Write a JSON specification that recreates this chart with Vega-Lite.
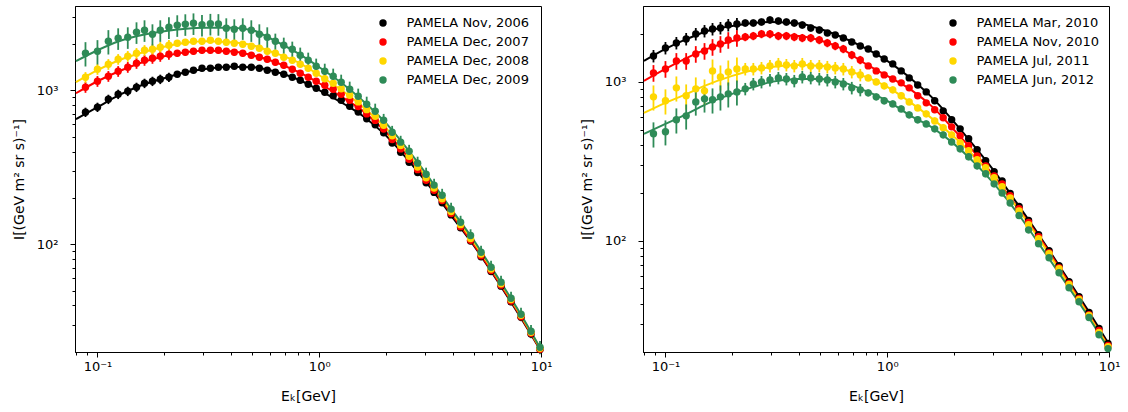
{
"$schema": "https://vega.github.io/schema/vega-lite/v6.json",
"background": "white",
"padding": {"left": 11, "top": 5, "right": 5, "bottom": 5},
"bounds": "flush",
"spacing": 102,
"config": {
 "font": "DejaVu Sans",
 "view": {"stroke": "black", "strokeWidth": 1},
 "axis": {"grid": false, "domainColor": "black", "domainWidth": 1, "tickColor": "black", "tickWidth": 1, "labelColor": "black", "titleColor": "black", "labelFont": "DejaVu Sans", "titleFont": "DejaVu Sans", "labelFontSize": 13, "titleFontSize": 14, "titleFontWeight": "normal", "labelOverlap": false, "labelFlush": false},
 "legend": {"labelFont": "DejaVu Sans", "labelFontSize": 13, "labelColor": "black"}
},
"resolve": {"scale": {"color": "independent", "fill": "independent", "x": "independent", "y": "independent"}, "legend": {"fill": "independent", "color": "independent"}},
"datasets": {
"L": [
{"s":"PAMELA Nov, 2006","E":0.0883,"I":720,"e":50},{"s":"PAMELA Nov, 2006","E":0.100,"I":776,"e":54},{"s":"PAMELA Nov, 2006","E":0.112,"I":874,"e":61},{"s":"PAMELA Nov, 2006","E":0.124,"I":942,"e":66},{"s":"PAMELA Nov, 2006","E":0.137,"I":985,"e":69},{"s":"PAMELA Nov, 2006","E":0.150,"I":1046,"e":73},{"s":"PAMELA Nov, 2006","E":0.163,"I":1110,"e":78},{"s":"PAMELA Nov, 2006","E":0.177,"I":1144,"e":80},{"s":"PAMELA Nov, 2006","E":0.192,"I":1179,"e":83},{"s":"PAMELA Nov, 2006","E":0.210,"I":1214,"e":85},
{"s":"PAMELA Nov, 2006","E":0.229,"I":1270,"e":51},{"s":"PAMELA Nov, 2006","E":0.249,"I":1309,"e":52},{"s":"PAMELA Nov, 2006","E":0.271,"I":1349,"e":54},{"s":"PAMELA Nov, 2006","E":0.296,"I":1389,"e":56},{"s":"PAMELA Nov, 2006","E":0.323,"I":1389,"e":56},{"s":"PAMELA Nov, 2006","E":0.351,"I":1411,"e":56},{"s":"PAMELA Nov, 2006","E":0.381,"I":1411,"e":56},{"s":"PAMELA Nov, 2006","E":0.414,"I":1432,"e":57},{"s":"PAMELA Nov, 2006","E":0.452,"I":1411,"e":56},{"s":"PAMELA Nov, 2006","E":0.494,"I":1411,"e":56},
{"s":"PAMELA Nov, 2006","E":0.537,"I":1389,"e":56},{"s":"PAMELA Nov, 2006","E":0.583,"I":1349,"e":54},{"s":"PAMELA Nov, 2006","E":0.634,"I":1309,"e":52},{"s":"PAMELA Nov, 2006","E":0.692,"I":1270,"e":51},{"s":"PAMELA Nov, 2006","E":0.756,"I":1214,"e":49},{"s":"PAMELA Nov, 2006","E":0.821,"I":1161,"e":46},{"s":"PAMELA Nov, 2006","E":0.892,"I":1094,"e":44},{"s":"PAMELA Nov, 2006","E":0.969,"I":1030,"e":41},{"s":"PAMELA Nov, 2006","E":1.059,"I":970,"e":39},{"s":"PAMELA Nov, 2006","E":1.156,"I":921,"e":37},
{"s":"PAMELA Nov, 2006","E":1.256,"I":861,"e":34},{"s":"PAMELA Nov, 2006","E":1.372,"I":787,"e":31},{"s":"PAMELA Nov, 2006","E":1.499,"I":723,"e":29},{"s":"PAMELA Nov, 2006","E":1.637,"I":653,"e":26},{"s":"PAMELA Nov, 2006","E":1.788,"I":597,"e":24},{"s":"PAMELA Nov, 2006","E":1.952,"I":529,"e":21},{"s":"PAMELA Nov, 2006","E":2.132,"I":454,"e":18},{"s":"PAMELA Nov, 2006","E":2.329,"I":396,"e":16},{"s":"PAMELA Nov, 2006","E":2.543,"I":341,"e":14},{"s":"PAMELA Nov, 2006","E":2.778,"I":292,"e":12},
{"s":"PAMELA Nov, 2006","E":3.034,"I":251,"e":10},{"s":"PAMELA Nov, 2006","E":3.296,"I":217,"e":8.7},{"s":"PAMELA Nov, 2006","E":3.583,"I":186,"e":7.4},{"s":"PAMELA Nov, 2006","E":3.932,"I":155,"e":6.2},{"s":"PAMELA Nov, 2006","E":4.339,"I":128,"e":5.1},{"s":"PAMELA Nov, 2006","E":4.813,"I":105,"e":4.2},{"s":"PAMELA Nov, 2006","E":5.367,"I":82.8,"e":3.3},{"s":"PAMELA Nov, 2006","E":5.954,"I":66.5,"e":2.7},{"s":"PAMELA Nov, 2006","E":6.604,"I":53.4,"e":2.1},{"s":"PAMELA Nov, 2006","E":7.327,"I":42.3,"e":1.7},
{"s":"PAMELA Nov, 2006","E":8.126,"I":33.5,"e":1.3},{"s":"PAMELA Nov, 2006","E":9.016,"I":26.1,"e":1.0},{"s":"PAMELA Nov, 2006","E":9.897,"I":20.7,"e":0.8},
{"s":"PAMELA Dec, 2007","E":0.0883,"I":1046,"e":84},{"s":"PAMELA Dec, 2007","E":0.100,"I":1144,"e":92},{"s":"PAMELA Dec, 2007","E":0.112,"I":1233,"e":99},{"s":"PAMELA Dec, 2007","E":0.124,"I":1328,"e":106},{"s":"PAMELA Dec, 2007","E":0.137,"I":1411,"e":113},{"s":"PAMELA Dec, 2007","E":0.150,"I":1497,"e":120},{"s":"PAMELA Dec, 2007","E":0.163,"I":1566,"e":125},{"s":"PAMELA Dec, 2007","E":0.177,"I":1614,"e":129},{"s":"PAMELA Dec, 2007","E":0.192,"I":1663,"e":133},{"s":"PAMELA Dec, 2007","E":0.210,"I":1713,"e":137},
{"s":"PAMELA Dec, 2007","E":0.229,"I":1739,"e":87},{"s":"PAMELA Dec, 2007","E":0.249,"I":1765,"e":88},{"s":"PAMELA Dec, 2007","E":0.271,"I":1792,"e":90},{"s":"PAMELA Dec, 2007","E":0.296,"I":1818,"e":91},{"s":"PAMELA Dec, 2007","E":0.323,"I":1818,"e":91},{"s":"PAMELA Dec, 2007","E":0.351,"I":1818,"e":91},{"s":"PAMELA Dec, 2007","E":0.381,"I":1792,"e":90},{"s":"PAMELA Dec, 2007","E":0.414,"I":1765,"e":88},{"s":"PAMELA Dec, 2007","E":0.452,"I":1739,"e":87},{"s":"PAMELA Dec, 2007","E":0.494,"I":1688,"e":84},
{"s":"PAMELA Dec, 2007","E":0.537,"I":1638,"e":82},{"s":"PAMELA Dec, 2007","E":0.583,"I":1590,"e":80},{"s":"PAMELA Dec, 2007","E":0.634,"I":1520,"e":76},{"s":"PAMELA Dec, 2007","E":0.692,"I":1453,"e":73},{"s":"PAMELA Dec, 2007","E":0.756,"I":1369,"e":68},{"s":"PAMELA Dec, 2007","E":0.821,"I":1289,"e":64},{"s":"PAMELA Dec, 2007","E":0.892,"I":1214,"e":61},{"s":"PAMELA Dec, 2007","E":0.969,"I":1144,"e":57},{"s":"PAMELA Dec, 2007","E":1.059,"I":1078,"e":54},{"s":"PAMELA Dec, 2007","E":1.156,"I":1015,"e":51},
{"s":"PAMELA Dec, 2007","E":1.256,"I":942,"e":47},{"s":"PAMELA Dec, 2007","E":1.372,"I":861,"e":43},{"s":"PAMELA Dec, 2007","E":1.499,"I":784,"e":39},{"s":"PAMELA Dec, 2007","E":1.637,"I":702,"e":35},{"s":"PAMELA Dec, 2007","E":1.788,"I":637,"e":32},{"s":"PAMELA Dec, 2007","E":1.952,"I":560,"e":28},{"s":"PAMELA Dec, 2007","E":2.132,"I":479,"e":24},{"s":"PAMELA Dec, 2007","E":2.329,"I":416,"e":21},{"s":"PAMELA Dec, 2007","E":2.543,"I":356,"e":18},{"s":"PAMELA Dec, 2007","E":2.778,"I":305,"e":15},
{"s":"PAMELA Dec, 2007","E":3.034,"I":260,"e":13},{"s":"PAMELA Dec, 2007","E":3.296,"I":224,"e":11},{"s":"PAMELA Dec, 2007","E":3.583,"I":192,"e":9.6},{"s":"PAMELA Dec, 2007","E":3.932,"I":158,"e":7.9},{"s":"PAMELA Dec, 2007","E":4.339,"I":130,"e":6.5},{"s":"PAMELA Dec, 2007","E":4.813,"I":106,"e":5.3},{"s":"PAMELA Dec, 2007","E":5.367,"I":84.1,"e":4.2},{"s":"PAMELA Dec, 2007","E":5.954,"I":67.5,"e":3.4},{"s":"PAMELA Dec, 2007","E":6.604,"I":54.2,"e":2.7},{"s":"PAMELA Dec, 2007","E":7.327,"I":42.8,"e":2.1},
{"s":"PAMELA Dec, 2007","E":8.126,"I":33.8,"e":1.7},{"s":"PAMELA Dec, 2007","E":9.016,"I":26.4,"e":1.3},{"s":"PAMELA Dec, 2007","E":9.897,"I":20.8,"e":1.0},
{"s":"PAMELA Dec, 2008","E":0.0883,"I":1214,"e":97},{"s":"PAMELA Dec, 2008","E":0.100,"I":1369,"e":110},{"s":"PAMELA Dec, 2008","E":0.112,"I":1475,"e":118},{"s":"PAMELA Dec, 2008","E":0.124,"I":1590,"e":127},{"s":"PAMELA Dec, 2008","E":0.137,"I":1663,"e":133},{"s":"PAMELA Dec, 2008","E":0.150,"I":1739,"e":139},{"s":"PAMELA Dec, 2008","E":0.163,"I":1818,"e":145},{"s":"PAMELA Dec, 2008","E":0.177,"I":1846,"e":148},{"s":"PAMELA Dec, 2008","E":0.192,"I":1902,"e":152},{"s":"PAMELA Dec, 2008","E":0.210,"I":1960,"e":157},
{"s":"PAMELA Dec, 2008","E":0.229,"I":2019,"e":101},{"s":"PAMELA Dec, 2008","E":0.249,"I":2050,"e":103},{"s":"PAMELA Dec, 2008","E":0.271,"I":2081,"e":104},{"s":"PAMELA Dec, 2008","E":0.296,"I":2081,"e":104},{"s":"PAMELA Dec, 2008","E":0.323,"I":2112,"e":106},{"s":"PAMELA Dec, 2008","E":0.351,"I":2081,"e":104},{"s":"PAMELA Dec, 2008","E":0.381,"I":2050,"e":103},{"s":"PAMELA Dec, 2008","E":0.414,"I":2019,"e":101},{"s":"PAMELA Dec, 2008","E":0.452,"I":1989,"e":99},{"s":"PAMELA Dec, 2008","E":0.494,"I":1931,"e":97},
{"s":"PAMELA Dec, 2008","E":0.537,"I":1874,"e":94},{"s":"PAMELA Dec, 2008","E":0.583,"I":1792,"e":90},{"s":"PAMELA Dec, 2008","E":0.634,"I":1739,"e":87},{"s":"PAMELA Dec, 2008","E":0.692,"I":1638,"e":82},{"s":"PAMELA Dec, 2008","E":0.756,"I":1566,"e":78},{"s":"PAMELA Dec, 2008","E":0.821,"I":1475,"e":74},{"s":"PAMELA Dec, 2008","E":0.892,"I":1389,"e":69},{"s":"PAMELA Dec, 2008","E":0.969,"I":1289,"e":64},{"s":"PAMELA Dec, 2008","E":1.059,"I":1188,"e":59},{"s":"PAMELA Dec, 2008","E":1.156,"I":1110,"e":56},
{"s":"PAMELA Dec, 2008","E":1.256,"I":1023,"e":51},{"s":"PAMELA Dec, 2008","E":1.372,"I":928,"e":46},{"s":"PAMELA Dec, 2008","E":1.499,"I":840,"e":42},{"s":"PAMELA Dec, 2008","E":1.637,"I":748,"e":37},{"s":"PAMELA Dec, 2008","E":1.788,"I":677,"e":34},{"s":"PAMELA Dec, 2008","E":1.952,"I":593,"e":30},{"s":"PAMELA Dec, 2008","E":2.132,"I":506,"e":25},{"s":"PAMELA Dec, 2008","E":2.329,"I":437,"e":22},{"s":"PAMELA Dec, 2008","E":2.543,"I":373,"e":19},{"s":"PAMELA Dec, 2008","E":2.778,"I":317,"e":16},
{"s":"PAMELA Dec, 2008","E":3.034,"I":270,"e":14},{"s":"PAMELA Dec, 2008","E":3.296,"I":232,"e":12},{"s":"PAMELA Dec, 2008","E":3.583,"I":197,"e":10},{"s":"PAMELA Dec, 2008","E":3.932,"I":163,"e":8},{"s":"PAMELA Dec, 2008","E":4.339,"I":134,"e":7},{"s":"PAMELA Dec, 2008","E":4.813,"I":109,"e":5.5},{"s":"PAMELA Dec, 2008","E":5.367,"I":86.4,"e":4.3},{"s":"PAMELA Dec, 2008","E":5.954,"I":69.1,"e":3.5},{"s":"PAMELA Dec, 2008","E":6.604,"I":55.4,"e":2.8},{"s":"PAMELA Dec, 2008","E":7.327,"I":43.7,"e":2.2},
{"s":"PAMELA Dec, 2008","E":8.126,"I":34.5,"e":1.7},{"s":"PAMELA Dec, 2008","E":9.016,"I":26.8,"e":1.3},{"s":"PAMELA Dec, 2008","E":9.897,"I":21.1,"e":1.1},
{"s":"PAMELA Dec, 2009","E":0.0883,"I":1739,"e":313},{"s":"PAMELA Dec, 2009","E":0.100,"I":1792,"e":323},{"s":"PAMELA Dec, 2009","E":0.112,"I":2081,"e":375},{"s":"PAMELA Dec, 2009","E":0.124,"I":2176,"e":348},{"s":"PAMELA Dec, 2009","E":0.137,"I":2209,"e":353},{"s":"PAMELA Dec, 2009","E":0.150,"I":2380,"e":381},{"s":"PAMELA Dec, 2009","E":0.163,"I":2453,"e":392},{"s":"PAMELA Dec, 2009","E":0.177,"I":2310,"e":370},{"s":"PAMELA Dec, 2009","E":0.192,"I":2453,"e":392},{"s":"PAMELA Dec, 2009","E":0.210,"I":2566,"e":411},
{"s":"PAMELA Dec, 2009","E":0.229,"I":2644,"e":423},{"s":"PAMELA Dec, 2009","E":0.249,"I":2684,"e":429},{"s":"PAMELA Dec, 2009","E":0.271,"I":2720,"e":435},{"s":"PAMELA Dec, 2009","E":0.296,"I":2660,"e":426},{"s":"PAMELA Dec, 2009","E":0.323,"I":2700,"e":432},{"s":"PAMELA Dec, 2009","E":0.351,"I":2690,"e":430},{"s":"PAMELA Dec, 2009","E":0.381,"I":2527,"e":404},{"s":"PAMELA Dec, 2009","E":0.414,"I":2489,"e":398},{"s":"PAMELA Dec, 2009","E":0.452,"I":2527,"e":404},{"s":"PAMELA Dec, 2009","E":0.494,"I":2453,"e":392},
{"s":"PAMELA Dec, 2009","E":0.537,"I":2310,"e":370},{"s":"PAMELA Dec, 2009","E":0.583,"I":2209,"e":353},{"s":"PAMELA Dec, 2009","E":0.634,"I":2081,"e":250},{"s":"PAMELA Dec, 2009","E":0.692,"I":1960,"e":235},{"s":"PAMELA Dec, 2009","E":0.756,"I":1846,"e":222},{"s":"PAMELA Dec, 2009","E":0.821,"I":1688,"e":203},{"s":"PAMELA Dec, 2009","E":0.892,"I":1566,"e":188},{"s":"PAMELA Dec, 2009","E":0.969,"I":1432,"e":172},{"s":"PAMELA Dec, 2009","E":1.059,"I":1328,"e":159},{"s":"PAMELA Dec, 2009","E":1.156,"I":1233,"e":148},
{"s":"PAMELA Dec, 2009","E":1.256,"I":1127,"e":135},{"s":"PAMELA Dec, 2009","E":1.372,"I":1015,"e":122},{"s":"PAMELA Dec, 2009","E":1.499,"I":914,"e":110},{"s":"PAMELA Dec, 2009","E":1.637,"I":811,"e":97},{"s":"PAMELA Dec, 2009","E":1.788,"I":730,"e":88},{"s":"PAMELA Dec, 2009","E":1.952,"I":638,"e":64},{"s":"PAMELA Dec, 2009","E":2.132,"I":534,"e":53},{"s":"PAMELA Dec, 2009","E":2.329,"I":460,"e":46},{"s":"PAMELA Dec, 2009","E":2.543,"I":402,"e":40},{"s":"PAMELA Dec, 2009","E":2.778,"I":336,"e":34},
{"s":"PAMELA Dec, 2009","E":3.034,"I":285,"e":29},{"s":"PAMELA Dec, 2009","E":3.296,"I":242,"e":24},{"s":"PAMELA Dec, 2009","E":3.583,"I":208,"e":21},{"s":"PAMELA Dec, 2009","E":3.932,"I":169,"e":17},{"s":"PAMELA Dec, 2009","E":4.339,"I":139,"e":14},{"s":"PAMELA Dec, 2009","E":4.813,"I":114,"e":11},{"s":"PAMELA Dec, 2009","E":5.367,"I":88.7,"e":8.9},{"s":"PAMELA Dec, 2009","E":5.954,"I":70.9,"e":7.1},{"s":"PAMELA Dec, 2009","E":6.604,"I":56.7,"e":5.7},{"s":"PAMELA Dec, 2009","E":7.327,"I":44.6,"e":4.5},
{"s":"PAMELA Dec, 2009","E":8.126,"I":35.1,"e":3.5},{"s":"PAMELA Dec, 2009","E":9.016,"I":27.2,"e":2.7},{"s":"PAMELA Dec, 2009","E":9.897,"I":21.4,"e":2.1}
],
"R": [
{"s":"PAMELA Mar, 2010","E":0.0883,"I":1457,"e":131},{"s":"PAMELA Mar, 2010","E":0.100,"I":1636,"e":147},{"s":"PAMELA Mar, 2010","E":0.112,"I":1759,"e":158},{"s":"PAMELA Mar, 2010","E":0.124,"I":1864,"e":168},{"s":"PAMELA Mar, 2010","E":0.137,"I":2004,"e":180},{"s":"PAMELA Mar, 2010","E":0.150,"I":2093,"e":188},{"s":"PAMELA Mar, 2010","E":0.163,"I":2154,"e":194},{"s":"PAMELA Mar, 2010","E":0.177,"I":2186,"e":197},{"s":"PAMELA Mar, 2010","E":0.192,"I":2283,"e":205},{"s":"PAMELA Mar, 2010","E":0.210,"I":2316,"e":208},
{"s":"PAMELA Mar, 2010","E":0.229,"I":2350,"e":118},{"s":"PAMELA Mar, 2010","E":0.249,"I":2350,"e":118},{"s":"PAMELA Mar, 2010","E":0.271,"I":2385,"e":119},{"s":"PAMELA Mar, 2010","E":0.296,"I":2455,"e":123},{"s":"PAMELA Mar, 2010","E":0.323,"I":2419,"e":121},{"s":"PAMELA Mar, 2010","E":0.351,"I":2385,"e":119},{"s":"PAMELA Mar, 2010","E":0.381,"I":2350,"e":118},{"s":"PAMELA Mar, 2010","E":0.414,"I":2283,"e":114},{"s":"PAMELA Mar, 2010","E":0.452,"I":2186,"e":109},{"s":"PAMELA Mar, 2010","E":0.494,"I":2123,"e":106},
{"s":"PAMELA Mar, 2010","E":0.537,"I":2033,"e":81},{"s":"PAMELA Mar, 2010","E":0.583,"I":1975,"e":79},{"s":"PAMELA Mar, 2010","E":0.634,"I":1891,"e":76},{"s":"PAMELA Mar, 2010","E":0.692,"I":1785,"e":71},{"s":"PAMELA Mar, 2010","E":0.756,"I":1684,"e":67},{"s":"PAMELA Mar, 2010","E":0.821,"I":1613,"e":65},{"s":"PAMELA Mar, 2010","E":0.892,"I":1500,"e":60},{"s":"PAMELA Mar, 2010","E":0.969,"I":1395,"e":56},{"s":"PAMELA Mar, 2010","E":1.059,"I":1298,"e":52},{"s":"PAMELA Mar, 2010","E":1.156,"I":1173,"e":47},
{"s":"PAMELA Mar, 2010","E":1.256,"I":1060,"e":42},{"s":"PAMELA Mar, 2010","E":1.372,"I":957,"e":38},{"s":"PAMELA Mar, 2010","E":1.499,"I":865,"e":35},{"s":"PAMELA Mar, 2010","E":1.637,"I":760,"e":30},{"s":"PAMELA Mar, 2010","E":1.788,"I":657,"e":26},{"s":"PAMELA Mar, 2010","E":1.952,"I":577,"e":23},{"s":"PAMELA Mar, 2010","E":2.132,"I":506,"e":20},{"s":"PAMELA Mar, 2010","E":2.329,"I":438,"e":18},{"s":"PAMELA Mar, 2010","E":2.543,"I":374,"e":15},{"s":"PAMELA Mar, 2010","E":2.778,"I":319,"e":13},
{"s":"PAMELA Mar, 2010","E":3.034,"I":272,"e":11},{"s":"PAMELA Mar, 2010","E":3.296,"I":238,"e":9.5},{"s":"PAMELA Mar, 2010","E":3.583,"I":198,"e":7.9},{"s":"PAMELA Mar, 2010","E":3.932,"I":164,"e":6.6},{"s":"PAMELA Mar, 2010","E":4.339,"I":134,"e":5.4},{"s":"PAMELA Mar, 2010","E":4.813,"I":109,"e":4.4},{"s":"PAMELA Mar, 2010","E":5.367,"I":86.5,"e":3.5},{"s":"PAMELA Mar, 2010","E":5.954,"I":69.6,"e":2.8},{"s":"PAMELA Mar, 2010","E":6.604,"I":55.2,"e":2.2},{"s":"PAMELA Mar, 2010","E":7.327,"I":44.4,"e":1.8},
{"s":"PAMELA Mar, 2010","E":8.126,"I":35.3,"e":1.4},{"s":"PAMELA Mar, 2010","E":9.016,"I":28.0,"e":1.1},{"s":"PAMELA Mar, 2010","E":9.897,"I":22.5,"e":0.9},
{"s":"PAMELA Nov, 2010","E":0.0883,"I":1139,"e":137},{"s":"PAMELA Nov, 2010","E":0.100,"I":1207,"e":145},{"s":"PAMELA Nov, 2010","E":0.112,"I":1355,"e":163},{"s":"PAMELA Nov, 2010","E":0.124,"I":1355,"e":163},{"s":"PAMELA Nov, 2010","E":0.137,"I":1500,"e":180},{"s":"PAMELA Nov, 2010","E":0.150,"I":1567,"e":188},{"s":"PAMELA Nov, 2010","E":0.163,"I":1660,"e":199},{"s":"PAMELA Nov, 2010","E":0.177,"I":1734,"e":208},{"s":"PAMELA Nov, 2010","E":0.192,"I":1837,"e":220},{"s":"PAMELA Nov, 2010","E":0.210,"I":1891,"e":227},
{"s":"PAMELA Nov, 2010","E":0.229,"I":1919,"e":115},{"s":"PAMELA Nov, 2010","E":0.249,"I":1947,"e":117},{"s":"PAMELA Nov, 2010","E":0.271,"I":2004,"e":120},{"s":"PAMELA Nov, 2010","E":0.296,"I":2004,"e":120},{"s":"PAMELA Nov, 2010","E":0.323,"I":1947,"e":117},{"s":"PAMELA Nov, 2010","E":0.351,"I":1947,"e":117},{"s":"PAMELA Nov, 2010","E":0.381,"I":1919,"e":115},{"s":"PAMELA Nov, 2010","E":0.414,"I":1891,"e":113},{"s":"PAMELA Nov, 2010","E":0.452,"I":1891,"e":113},{"s":"PAMELA Nov, 2010","E":0.494,"I":1837,"e":110},
{"s":"PAMELA Nov, 2010","E":0.537,"I":1759,"e":106},{"s":"PAMELA Nov, 2010","E":0.583,"I":1684,"e":101},{"s":"PAMELA Nov, 2010","E":0.634,"I":1613,"e":97},{"s":"PAMELA Nov, 2010","E":0.692,"I":1478,"e":89},{"s":"PAMELA Nov, 2010","E":0.756,"I":1375,"e":83},{"s":"PAMELA Nov, 2010","E":0.821,"I":1261,"e":50},{"s":"PAMELA Nov, 2010","E":0.892,"I":1173,"e":47},{"s":"PAMELA Nov, 2010","E":0.969,"I":1107,"e":44},{"s":"PAMELA Nov, 2010","E":1.059,"I":1044,"e":42},{"s":"PAMELA Nov, 2010","E":1.156,"I":986,"e":39},
{"s":"PAMELA Nov, 2010","E":1.256,"I":917,"e":37},{"s":"PAMELA Nov, 2010","E":1.372,"I":817,"e":33},{"s":"PAMELA Nov, 2010","E":1.499,"I":738,"e":30},{"s":"PAMELA Nov, 2010","E":1.637,"I":667,"e":27},{"s":"PAMELA Nov, 2010","E":1.788,"I":594,"e":24},{"s":"PAMELA Nov, 2010","E":1.952,"I":521,"e":21},{"s":"PAMELA Nov, 2010","E":2.132,"I":458,"e":18},{"s":"PAMELA Nov, 2010","E":2.329,"I":396,"e":16},{"s":"PAMELA Nov, 2010","E":2.543,"I":342,"e":14},{"s":"PAMELA Nov, 2010","E":2.778,"I":296,"e":12},
{"s":"PAMELA Nov, 2010","E":3.034,"I":256,"e":10},{"s":"PAMELA Nov, 2010","E":3.296,"I":228,"e":9.1},{"s":"PAMELA Nov, 2010","E":3.583,"I":192,"e":7.7},{"s":"PAMELA Nov, 2010","E":3.932,"I":159,"e":6.4},{"s":"PAMELA Nov, 2010","E":4.339,"I":130,"e":5.2},{"s":"PAMELA Nov, 2010","E":4.813,"I":106,"e":4.2},{"s":"PAMELA Nov, 2010","E":5.367,"I":84.0,"e":3.4},{"s":"PAMELA Nov, 2010","E":5.954,"I":67.6,"e":2.7},{"s":"PAMELA Nov, 2010","E":6.604,"I":53.7,"e":2.1},{"s":"PAMELA Nov, 2010","E":7.327,"I":43.2,"e":1.7},
{"s":"PAMELA Nov, 2010","E":8.126,"I":34.2,"e":1.4},{"s":"PAMELA Nov, 2010","E":9.016,"I":27.2,"e":1.1},{"s":"PAMELA Nov, 2010","E":9.897,"I":21.9,"e":0.9},
{"s":"PAMELA Jul, 2011","E":0.0883,"I":805,"e":145},{"s":"PAMELA Jul, 2011","E":0.100,"I":760,"e":137},{"s":"PAMELA Jul, 2011","E":0.112,"I":917,"e":165},{"s":"PAMELA Jul, 2011","E":0.124,"I":817,"e":147},{"s":"PAMELA Jul, 2011","E":0.137,"I":904,"e":163},{"s":"PAMELA Jul, 2011","E":0.150,"I":878,"e":158},{"s":"PAMELA Jul, 2011","E":0.163,"I":1173,"e":211},{"s":"PAMELA Jul, 2011","E":0.177,"I":1075,"e":194},{"s":"PAMELA Jul, 2011","E":0.192,"I":1156,"e":208},{"s":"PAMELA Jul, 2011","E":0.210,"I":1207,"e":217},
{"s":"PAMELA Jul, 2011","E":0.229,"I":1207,"e":109},{"s":"PAMELA Jul, 2011","E":0.249,"I":1207,"e":109},{"s":"PAMELA Jul, 2011","E":0.271,"I":1225,"e":110},{"s":"PAMELA Jul, 2011","E":0.296,"I":1261,"e":113},{"s":"PAMELA Jul, 2011","E":0.323,"I":1298,"e":117},{"s":"PAMELA Jul, 2011","E":0.351,"I":1279,"e":115},{"s":"PAMELA Jul, 2011","E":0.381,"I":1261,"e":113},{"s":"PAMELA Jul, 2011","E":0.414,"I":1298,"e":117},{"s":"PAMELA Jul, 2011","E":0.452,"I":1261,"e":113},{"s":"PAMELA Jul, 2011","E":0.494,"I":1261,"e":113},
{"s":"PAMELA Jul, 2011","E":0.537,"I":1243,"e":112},{"s":"PAMELA Jul, 2011","E":0.583,"I":1225,"e":110},{"s":"PAMELA Jul, 2011","E":0.634,"I":1207,"e":109},{"s":"PAMELA Jul, 2011","E":0.692,"I":1156,"e":104},{"s":"PAMELA Jul, 2011","E":0.756,"I":1107,"e":100},{"s":"PAMELA Jul, 2011","E":0.821,"I":1060,"e":53},{"s":"PAMELA Jul, 2011","E":0.892,"I":1000,"e":50},{"s":"PAMELA Jul, 2011","E":0.969,"I":944,"e":47},{"s":"PAMELA Jul, 2011","E":1.059,"I":891,"e":45},{"s":"PAMELA Jul, 2011","E":1.156,"I":817,"e":41},
{"s":"PAMELA Jul, 2011","E":1.256,"I":748,"e":37},{"s":"PAMELA Jul, 2011","E":1.372,"I":686,"e":34},{"s":"PAMELA Jul, 2011","E":1.499,"I":629,"e":31},{"s":"PAMELA Jul, 2011","E":1.637,"I":568,"e":28},{"s":"PAMELA Jul, 2011","E":1.788,"I":514,"e":26},{"s":"PAMELA Jul, 2011","E":1.952,"I":464,"e":23},{"s":"PAMELA Jul, 2011","E":2.132,"I":413,"e":21},{"s":"PAMELA Jul, 2011","E":2.329,"I":368,"e":18},{"s":"PAMELA Jul, 2011","E":2.543,"I":323,"e":16},{"s":"PAMELA Jul, 2011","E":2.778,"I":288,"e":14},
{"s":"PAMELA Jul, 2011","E":3.034,"I":249,"e":12},{"s":"PAMELA Jul, 2011","E":3.296,"I":219,"e":11},{"s":"PAMELA Jul, 2011","E":3.583,"I":186,"e":9.3},{"s":"PAMELA Jul, 2011","E":3.932,"I":154,"e":7.7},{"s":"PAMELA Jul, 2011","E":4.339,"I":126,"e":6.3},{"s":"PAMELA Jul, 2011","E":4.813,"I":103,"e":5.2},{"s":"PAMELA Jul, 2011","E":5.367,"I":82.8,"e":4.1},{"s":"PAMELA Jul, 2011","E":5.954,"I":66.6,"e":3.3},{"s":"PAMELA Jul, 2011","E":6.604,"I":52.9,"e":2.6},{"s":"PAMELA Jul, 2011","E":7.327,"I":42.6,"e":2.1},
{"s":"PAMELA Jul, 2011","E":8.126,"I":33.8,"e":1.7},{"s":"PAMELA Jul, 2011","E":9.016,"I":26.4,"e":1.3},{"s":"PAMELA Jul, 2011","E":9.897,"I":21.5,"e":1.1},
{"s":"PAMELA Jun, 2012","E":0.0883,"I":471,"e":85},{"s":"PAMELA Jun, 2012","E":0.100,"I":485,"e":87},{"s":"PAMELA Jun, 2012","E":0.112,"I":577,"e":104},{"s":"PAMELA Jun, 2012","E":0.124,"I":611,"e":110},{"s":"PAMELA Jun, 2012","E":0.137,"I":748,"e":135},{"s":"PAMELA Jun, 2012","E":0.150,"I":782,"e":141},{"s":"PAMELA Jun, 2012","E":0.163,"I":771,"e":139},{"s":"PAMELA Jun, 2012","E":0.177,"I":805,"e":145},{"s":"PAMELA Jun, 2012","E":0.192,"I":841,"e":151},{"s":"PAMELA Jun, 2012","E":0.210,"I":865,"e":156},
{"s":"PAMELA Jun, 2012","E":0.229,"I":904,"e":81},{"s":"PAMELA Jun, 2012","E":0.249,"I":971,"e":87},{"s":"PAMELA Jun, 2012","E":0.271,"I":1000,"e":90},{"s":"PAMELA Jun, 2012","E":0.296,"I":1029,"e":93},{"s":"PAMELA Jun, 2012","E":0.323,"I":1060,"e":95},{"s":"PAMELA Jun, 2012","E":0.351,"I":1044,"e":94},{"s":"PAMELA Jun, 2012","E":0.381,"I":1015,"e":91},{"s":"PAMELA Jun, 2012","E":0.414,"I":1075,"e":97},{"s":"PAMELA Jun, 2012","E":0.452,"I":1060,"e":95},{"s":"PAMELA Jun, 2012","E":0.494,"I":1044,"e":94},
{"s":"PAMELA Jun, 2012","E":0.537,"I":1029,"e":93},{"s":"PAMELA Jun, 2012","E":0.583,"I":1000,"e":90},{"s":"PAMELA Jun, 2012","E":0.634,"I":971,"e":87},{"s":"PAMELA Jun, 2012","E":0.692,"I":917,"e":83},{"s":"PAMELA Jun, 2012","E":0.756,"I":891,"e":80},{"s":"PAMELA Jun, 2012","E":0.821,"I":853,"e":43},{"s":"PAMELA Jun, 2012","E":0.892,"I":805,"e":40},{"s":"PAMELA Jun, 2012","E":0.969,"I":760,"e":38},{"s":"PAMELA Jun, 2012","E":1.059,"I":727,"e":36},{"s":"PAMELA Jun, 2012","E":1.156,"I":676,"e":34},
{"s":"PAMELA Jun, 2012","E":1.256,"I":620,"e":31},{"s":"PAMELA Jun, 2012","E":1.372,"I":577,"e":29},{"s":"PAMELA Jun, 2012","E":1.499,"I":544,"e":27},{"s":"PAMELA Jun, 2012","E":1.637,"I":506,"e":25},{"s":"PAMELA Jun, 2012","E":1.788,"I":464,"e":23},{"s":"PAMELA Jun, 2012","E":1.952,"I":419,"e":21},{"s":"PAMELA Jun, 2012","E":2.132,"I":379,"e":19},{"s":"PAMELA Jun, 2012","E":2.329,"I":338,"e":17},{"s":"PAMELA Jun, 2012","E":2.543,"I":296,"e":15},{"s":"PAMELA Jun, 2012","E":2.778,"I":264,"e":13},
{"s":"PAMELA Jun, 2012","E":3.034,"I":228,"e":11},{"s":"PAMELA Jun, 2012","E":3.296,"I":200,"e":10},{"s":"PAMELA Jun, 2012","E":3.583,"I":173,"e":8.7},{"s":"PAMELA Jun, 2012","E":3.932,"I":144,"e":7.2},{"s":"PAMELA Jun, 2012","E":4.339,"I":117,"e":5.9},{"s":"PAMELA Jun, 2012","E":4.813,"I":95.8,"e":4.8},{"s":"PAMELA Jun, 2012","E":5.367,"I":78.2,"e":3.9},{"s":"PAMELA Jun, 2012","E":5.954,"I":62.9,"e":3.1},{"s":"PAMELA Jun, 2012","E":6.604,"I":50.6,"e":2.5},{"s":"PAMELA Jun, 2012","E":7.327,"I":41.3,"e":2.1},
{"s":"PAMELA Jun, 2012","E":8.126,"I":32.8,"e":1.6},{"s":"PAMELA Jun, 2012","E":9.016,"I":25.6,"e":1.3},{"s":"PAMELA Jun, 2012","E":9.897,"I":20.9,"e":1.0}
],
"LM": [
{"s":"PAMELA Nov, 2006","E":0.08,"I":648},{"s":"PAMELA Nov, 2006","E":0.1,"I":776},{"s":"PAMELA Nov, 2006","E":0.125,"I":928},{"s":"PAMELA Nov, 2006","E":0.15,"I":1046},{"s":"PAMELA Nov, 2006","E":0.2,"I":1197},{"s":"PAMELA Nov, 2006","E":0.25,"I":1309},{"s":"PAMELA Nov, 2006","E":0.3,"I":1369},{"s":"PAMELA Nov, 2006","E":0.4,"I":1421},{"s":"PAMELA Nov, 2006","E":0.5,"I":1411},{"s":"PAMELA Nov, 2006","E":0.6,"I":1349},{"s":"PAMELA Nov, 2006","E":0.8,"I":1179},{"s":"PAMELA Nov, 2006","E":1.0,"I":1000},{"s":"PAMELA Nov, 2006","E":1.3,"I":811},{"s":"PAMELA Nov, 2006","E":1.6,"I":668},{"s":"PAMELA Nov, 2006","E":2,"I":507},{"s":"PAMELA Nov, 2006","E":2.5,"I":356},{"s":"PAMELA Nov, 2006","E":3,"I":259},{"s":"PAMELA Nov, 2006","E":4,"I":149},{"s":"PAMELA Nov, 2006","E":5,"I":97.0},{"s":"PAMELA Nov, 2006","E":6.5,"I":55.0},{"s":"PAMELA Nov, 2006","E":8,"I":34.3},{"s":"PAMELA Nov, 2006","E":10,"I":20.2},
{"s":"PAMELA Dec, 2007","E":0.08,"I":956},{"s":"PAMELA Dec, 2007","E":0.1,"I":1144},{"s":"PAMELA Dec, 2007","E":0.125,"I":1328},{"s":"PAMELA Dec, 2007","E":0.15,"I":1475},{"s":"PAMELA Dec, 2007","E":0.2,"I":1663},{"s":"PAMELA Dec, 2007","E":0.25,"I":1765},{"s":"PAMELA Dec, 2007","E":0.3,"I":1805},{"s":"PAMELA Dec, 2007","E":0.4,"I":1792},{"s":"PAMELA Dec, 2007","E":0.5,"I":1688},{"s":"PAMELA Dec, 2007","E":0.6,"I":1566},{"s":"PAMELA Dec, 2007","E":0.8,"I":1319},{"s":"PAMELA Dec, 2007","E":1.0,"I":1110},{"s":"PAMELA Dec, 2007","E":1.3,"I":881},{"s":"PAMELA Dec, 2007","E":1.6,"I":720},{"s":"PAMELA Dec, 2007","E":2,"I":534},{"s":"PAMELA Dec, 2007","E":2.5,"I":373},{"s":"PAMELA Dec, 2007","E":3,"I":268},{"s":"PAMELA Dec, 2007","E":4,"I":153},{"s":"PAMELA Dec, 2007","E":5,"I":98.5},{"s":"PAMELA Dec, 2007","E":6.5,"I":55.8},{"s":"PAMELA Dec, 2007","E":8,"I":34.9},{"s":"PAMELA Dec, 2007","E":10,"I":20.4},
{"s":"PAMELA Dec, 2008","E":0.08,"I":1127},{"s":"PAMELA Dec, 2008","E":0.1,"I":1349},{"s":"PAMELA Dec, 2008","E":0.125,"I":1566},{"s":"PAMELA Dec, 2008","E":0.15,"I":1713},{"s":"PAMELA Dec, 2008","E":0.2,"I":1917},{"s":"PAMELA Dec, 2008","E":0.25,"I":2035},{"s":"PAMELA Dec, 2008","E":0.3,"I":2081},{"s":"PAMELA Dec, 2008","E":0.4,"I":2050},{"s":"PAMELA Dec, 2008","E":0.5,"I":1960},{"s":"PAMELA Dec, 2008","E":0.6,"I":1792},{"s":"PAMELA Dec, 2008","E":0.8,"I":1520},{"s":"PAMELA Dec, 2008","E":1.0,"I":1251},{"s":"PAMELA Dec, 2008","E":1.3,"I":970},{"s":"PAMELA Dec, 2008","E":1.6,"I":764},{"s":"PAMELA Dec, 2008","E":2,"I":567},{"s":"PAMELA Dec, 2008","E":2.5,"I":390},{"s":"PAMELA Dec, 2008","E":3,"I":279},{"s":"PAMELA Dec, 2008","E":4,"I":158},{"s":"PAMELA Dec, 2008","E":5,"I":102},{"s":"PAMELA Dec, 2008","E":6.5,"I":57.5},{"s":"PAMELA Dec, 2008","E":8,"I":35.6},{"s":"PAMELA Dec, 2008","E":10,"I":20.6},
{"s":"PAMELA Dec, 2009","E":0.08,"I":1543},{"s":"PAMELA Dec, 2009","E":0.1,"I":1818},{"s":"PAMELA Dec, 2009","E":0.125,"I":2081},{"s":"PAMELA Dec, 2009","E":0.15,"I":2242},{"s":"PAMELA Dec, 2009","E":0.2,"I":2416},{"s":"PAMELA Dec, 2009","E":0.25,"I":2508},{"s":"PAMELA Dec, 2009","E":0.3,"I":2546},{"s":"PAMELA Dec, 2009","E":0.4,"I":2546},{"s":"PAMELA Dec, 2009","E":0.5,"I":2453},{"s":"PAMELA Dec, 2009","E":0.6,"I":2176},{"s":"PAMELA Dec, 2009","E":0.8,"I":1739},{"s":"PAMELA Dec, 2009","E":1.0,"I":1411},{"s":"PAMELA Dec, 2009","E":1.3,"I":1078},{"s":"PAMELA Dec, 2009","E":1.6,"I":836},{"s":"PAMELA Dec, 2009","E":2,"I":611},{"s":"PAMELA Dec, 2009","E":2.5,"I":414},{"s":"PAMELA Dec, 2009","E":3,"I":293},{"s":"PAMELA Dec, 2009","E":4,"I":164},{"s":"PAMELA Dec, 2009","E":5,"I":105},{"s":"PAMELA Dec, 2009","E":6.5,"I":58.4},{"s":"PAMELA Dec, 2009","E":8,"I":36.2},{"s":"PAMELA Dec, 2009","E":10,"I":20.8}
],
"RM": [
{"s":"PAMELA Mar, 2010","E":0.08,"I":1355},{"s":"PAMELA Mar, 2010","E":0.1,"I":1613},{"s":"PAMELA Mar, 2010","E":0.125,"I":1864},{"s":"PAMELA Mar, 2010","E":0.15,"I":2063},{"s":"PAMELA Mar, 2010","E":0.2,"I":2250},{"s":"PAMELA Mar, 2010","E":0.25,"I":2350},{"s":"PAMELA Mar, 2010","E":0.3,"I":2385},{"s":"PAMELA Mar, 2010","E":0.4,"I":2333},{"s":"PAMELA Mar, 2010","E":0.5,"I":2154},{"s":"PAMELA Mar, 2010","E":0.6,"I":1961},{"s":"PAMELA Mar, 2010","E":0.8,"I":1624},{"s":"PAMELA Mar, 2010","E":1.0,"I":1355},{"s":"PAMELA Mar, 2010","E":1.3,"I":1029},{"s":"PAMELA Mar, 2010","E":1.6,"I":793},{"s":"PAMELA Mar, 2010","E":2,"I":560},{"s":"PAMELA Mar, 2010","E":2.5,"I":385},{"s":"PAMELA Mar, 2010","E":3,"I":280},{"s":"PAMELA Mar, 2010","E":4,"I":159},{"s":"PAMELA Mar, 2010","E":5,"I":101},{"s":"PAMELA Mar, 2010","E":6.5,"I":57.7},{"s":"PAMELA Mar, 2010","E":8,"I":36.8},{"s":"PAMELA Mar, 2010","E":10,"I":22.2},
{"s":"PAMELA Nov, 2010","E":0.08,"I":1015},{"s":"PAMELA Nov, 2010","E":0.1,"I":1207},{"s":"PAMELA Nov, 2010","E":0.125,"I":1416},{"s":"PAMELA Nov, 2010","E":0.15,"I":1590},{"s":"PAMELA Nov, 2010","E":0.2,"I":1811},{"s":"PAMELA Nov, 2010","E":0.25,"I":1933},{"s":"PAMELA Nov, 2010","E":0.3,"I":1975},{"s":"PAMELA Nov, 2010","E":0.4,"I":1947},{"s":"PAMELA Nov, 2010","E":0.5,"I":1824},{"s":"PAMELA Nov, 2010","E":0.6,"I":1660},{"s":"PAMELA Nov, 2010","E":0.8,"I":1298},{"s":"PAMELA Nov, 2010","E":1.0,"I":1091},{"s":"PAMELA Nov, 2010","E":1.3,"I":878},{"s":"PAMELA Nov, 2010","E":1.6,"I":696},{"s":"PAMELA Nov, 2010","E":2,"I":499},{"s":"PAMELA Nov, 2010","E":2.5,"I":353},{"s":"PAMELA Nov, 2010","E":3,"I":260},{"s":"PAMELA Nov, 2010","E":4,"I":152},{"s":"PAMELA Nov, 2010","E":5,"I":98.6},{"s":"PAMELA Nov, 2010","E":6.5,"I":56.0},{"s":"PAMELA Nov, 2010","E":8,"I":35.3},{"s":"PAMELA Nov, 2010","E":10,"I":21.5},
{"s":"PAMELA Jul, 2011","E":0.08,"I":638},{"s":"PAMELA Jul, 2011","E":0.1,"I":738},{"s":"PAMELA Jul, 2011","E":0.125,"I":841},{"s":"PAMELA Jul, 2011","E":0.15,"I":944},{"s":"PAMELA Jul, 2011","E":0.2,"I":1091},{"s":"PAMELA Jul, 2011","E":0.25,"I":1190},{"s":"PAMELA Jul, 2011","E":0.3,"I":1243},{"s":"PAMELA Jul, 2011","E":0.4,"I":1279},{"s":"PAMELA Jul, 2011","E":0.5,"I":1261},{"s":"PAMELA Jul, 2011","E":0.6,"I":1225},{"s":"PAMELA Jul, 2011","E":0.8,"I":1075},{"s":"PAMELA Jul, 2011","E":1.0,"I":930},{"s":"PAMELA Jul, 2011","E":1.3,"I":727},{"s":"PAMELA Jul, 2011","E":1.6,"I":585},{"s":"PAMELA Jul, 2011","E":2,"I":451},{"s":"PAMELA Jul, 2011","E":2.5,"I":333},{"s":"PAMELA Jul, 2011","E":3,"I":253},{"s":"PAMELA Jul, 2011","E":4,"I":150},{"s":"PAMELA Jul, 2011","E":5,"I":95.8},{"s":"PAMELA Jul, 2011","E":6.5,"I":54.4},{"s":"PAMELA Jul, 2011","E":8,"I":34.8},{"s":"PAMELA Jul, 2011","E":10,"I":21.2},
{"s":"PAMELA Jun, 2012","E":0.08,"I":471},{"s":"PAMELA Jun, 2012","E":0.1,"I":544},{"s":"PAMELA Jun, 2012","E":0.125,"I":629},{"s":"PAMELA Jun, 2012","E":0.15,"I":717},{"s":"PAMELA Jun, 2012","E":0.2,"I":841},{"s":"PAMELA Jun, 2012","E":0.25,"I":930},{"s":"PAMELA Jun, 2012","E":0.3,"I":1000},{"s":"PAMELA Jun, 2012","E":0.4,"I":1044},{"s":"PAMELA Jun, 2012","E":0.5,"I":1044},{"s":"PAMELA Jun, 2012","E":0.6,"I":1015},{"s":"PAMELA Jun, 2012","E":0.8,"I":878},{"s":"PAMELA Jun, 2012","E":1.0,"I":760},{"s":"PAMELA Jun, 2012","E":1.3,"I":602},{"s":"PAMELA Jun, 2012","E":1.6,"I":514},{"s":"PAMELA Jun, 2012","E":2,"I":407},{"s":"PAMELA Jun, 2012","E":2.5,"I":305},{"s":"PAMELA Jun, 2012","E":3,"I":232},{"s":"PAMELA Jun, 2012","E":4,"I":140},{"s":"PAMELA Jun, 2012","E":5,"I":89.1},{"s":"PAMELA Jun, 2012","E":6.5,"I":52.1},{"s":"PAMELA Jun, 2012","E":8,"I":33.8},{"s":"PAMELA Jun, 2012","E":10,"I":20.6}
]
},
"hconcat": [
{
 "width": 466, "height": 346,
 "encoding": {
  "x": {"field": "E", "type": "quantitative", "scale": {"type": "log", "domain": [0.0792, 10], "nice": false},
   "axis": {"values": [0.08,0.09,0.1,0.2,0.3,0.4,0.5,0.6,0.7,0.8,0.9,1,2,3,4,5,6,7,8,9,10], "labelExpr": "datum.value == 0.1 ? '10⁻¹' : datum.value == 1 ? '10⁰' : datum.value == 10 ? '10¹' : ''", "tickSize": {"condition": {"test": "datum.value == 0.1 || datum.value == 1 || datum.value == 10", "value": 5}, "value": 3}, "labelPadding": 3, "title": "Eₖ[GeV]", "titlePadding": 16}},
  "y": {"field": "I", "type": "quantitative", "scale": {"type": "log", "domain": [19.95, 3524], "nice": false},
   "axis": {"values": [30,40,50,60,70,80,90,100,200,300,400,500,600,700,800,900,1000,2000,3000], "labelExpr": "datum.value == 100 ? '10²' : datum.value == 1000 ? '10³' : ''", "tickSize": {"condition": {"test": "datum.value == 100 || datum.value == 1000", "value": 5}, "value": 3}, "labelPadding": 12, "title": "I[(GeV m² sr s)⁻¹]", "titlePadding": 10}}
 },
 "layer": [
  {"data": {"name": "LM"}, "mark": {"type": "line", "strokeWidth": 2, "interpolate": "monotone"},
   "encoding": {"color": {"field": "s", "type": "nominal", "scale": {"domain": ["PAMELA Dec, 2009","PAMELA Dec, 2008","PAMELA Dec, 2007","PAMELA Nov, 2006"], "range": ["#2e8b57","#ffd700","#ff0000","#000000"]}, "legend": null}}},
  {"data": {"name": "L"}, "mark": {"type": "errorbar", "thickness": 1.8},
   "encoding": {"yError": {"field": "e"}, "color": {"field": "s", "type": "nominal", "scale": {"domain": ["PAMELA Dec, 2009","PAMELA Dec, 2008","PAMELA Dec, 2007","PAMELA Nov, 2006"], "range": ["#2e8b57","#ffd700","#ff0000","#000000"]}, "legend": null}}},
  {"data": {"name": "L"}, "mark": {"type": "point", "filled": true, "size": 55, "opacity": 1},
   "encoding": {"fill": {"field": "s", "type": "nominal", "scale": {"domain": ["PAMELA Nov, 2006","PAMELA Dec, 2007","PAMELA Dec, 2008","PAMELA Dec, 2009"], "range": ["#000000","#ff0000","#ffd700","#2e8b57"]},
    "legend": {"orient": "none", "legendX": 301.5, "legendY": 8.5, "title": null, "symbolType": "circle", "symbolSize": 55, "labelOffset": 17, "rowPadding": 2, "clipHeight": 17, "padding": 0}}}}
 ]
},
{
 "width": 466, "height": 346,
 "encoding": {
  "x": {"field": "E", "type": "quantitative", "scale": {"type": "log", "domain": [0.0792, 10], "nice": false},
   "axis": {"values": [0.08,0.09,0.1,0.2,0.3,0.4,0.5,0.6,0.7,0.8,0.9,1,2,3,4,5,6,7,8,9,10], "labelExpr": "datum.value == 0.1 ? '10⁻¹' : datum.value == 1 ? '10⁰' : datum.value == 10 ? '10¹' : ''", "tickSize": {"condition": {"test": "datum.value == 0.1 || datum.value == 1 || datum.value == 10", "value": 5}, "value": 3}, "labelPadding": 3, "title": "Eₖ[GeV]", "titlePadding": 16}},
  "y": {"field": "I", "type": "quantitative", "scale": {"type": "log", "domain": [19.9, 3006], "nice": false},
   "axis": {"values": [30,40,50,60,70,80,90,100,200,300,400,500,600,700,800,900,1000,2000], "labelExpr": "datum.value == 100 ? '10²' : datum.value == 1000 ? '10³' : ''", "tickSize": {"condition": {"test": "datum.value == 100 || datum.value == 1000", "value": 5}, "value": 3}, "labelPadding": 12, "title": "I[(GeV m² sr s)⁻¹]", "titlePadding": 10}}
 },
 "layer": [
  {"data": {"name": "RM"}, "mark": {"type": "line", "strokeWidth": 2, "interpolate": "monotone"},
   "encoding": {"color": {"field": "s", "type": "nominal", "scale": {"domain": ["PAMELA Jun, 2012","PAMELA Jul, 2011","PAMELA Nov, 2010","PAMELA Mar, 2010"], "range": ["#2e8b57","#ffd700","#ff0000","#000000"]}, "legend": null}}},
  {"data": {"name": "R"}, "mark": {"type": "errorbar", "thickness": 1.8},
   "encoding": {"yError": {"field": "e"}, "color": {"field": "s", "type": "nominal", "scale": {"domain": ["PAMELA Jun, 2012","PAMELA Jul, 2011","PAMELA Nov, 2010","PAMELA Mar, 2010"], "range": ["#2e8b57","#ffd700","#ff0000","#000000"]}, "legend": null}}},
  {"data": {"name": "R"}, "mark": {"type": "point", "filled": true, "size": 55, "opacity": 1},
   "encoding": {"fill": {"field": "s", "type": "nominal", "scale": {"domain": ["PAMELA Mar, 2010","PAMELA Nov, 2010","PAMELA Jul, 2011","PAMELA Jun, 2012"], "range": ["#000000","#ff0000","#ffd700","#2e8b57"]},
    "legend": {"orient": "none", "legendX": 303.5, "legendY": 8.5, "title": null, "symbolType": "circle", "symbolSize": 55, "labelOffset": 17, "rowPadding": 2, "clipHeight": 17, "padding": 0}}}}
 ]
}
]
}
